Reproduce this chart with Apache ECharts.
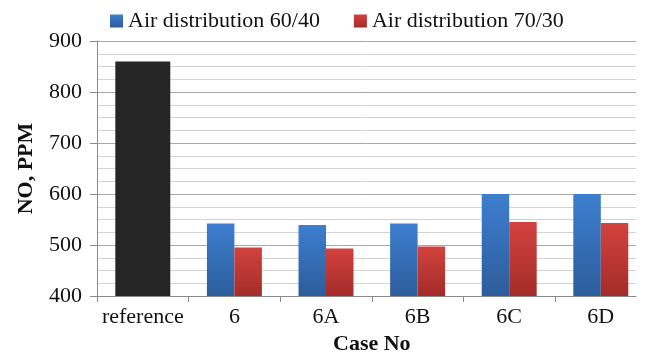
<!DOCTYPE html>
<html>
<head>
<meta charset="utf-8">
<style>
  html, body { margin: 0; padding: 0; background: #fff; }
  #chart { width: 645px; height: 354px; }
</style>
<script src="https://cdn.jsdelivr.net/npm/echarts@6/dist/echarts.min.js"></script>
</head>
<body>
<div id="chart"></div>
<script>
// NO emissions per case
const categories = ['reference', '6', '6A', '6B', '6C', '6D'];
const referenceValues = [860, null, null, null, null, null];
const air6040 = [null, 542, 539, 542, 600, 600];
const air7030 = [null, 495, 493, 497, 545, 543];
const seriesNames = ['Air distribution 60/40', 'Air distribution 70/30'];

const serif = '"Liberation Serif", "Times New Roman", serif';
const grad = (top, bottom) => new echarts.graphic.LinearGradient(0, 0, 0, 1, [
  { offset: 0, color: top }, { offset: 1, color: bottom }
]);
const blue = grad('#3d7ece', '#2c5d9c');
const red = grad('#d2423e', '#a32c29');

const chart = echarts.init(document.getElementById('chart'));
chart.setOption({
  animation: false,
  backgroundColor: '#ffffff',
  legend: {
    data: seriesNames,
    top: 5,
    left: 105,
    itemWidth: 13,
    itemHeight: 13,
    itemGap: 34,
    icon: 'rect',
    textStyle: { fontFamily: serif, fontSize: 22, color: '#111' }
  },
  grid: [
    // frame: value-axis gridlines and the baseline
    { left: 97, right: 9, top: 41, bottom: 58, outerBoundsMode: 'none' },
    // bars and category labels
    { left: 97, right: -1.6, top: 41, bottom: 58, outerBoundsMode: 'none' }
  ],
  xAxis: [
    {
      gridIndex: 0, type: 'value', min: 0, max: 1,
      axisLine: { show: true, lineStyle: { color: '#8a8a8a', width: 1 } },
      axisTick: { show: false }, axisLabel: { show: false }, splitLine: { show: false }
    },
    {
      gridIndex: 1, type: 'category', data: categories,
      axisLine: { show: false },
      axisTick: { show: true, interval: 0, length: 6, lineStyle: { color: '#8a8a8a' } },
      axisLabel: { interval: 0, fontFamily: serif, fontSize: 22, color: '#111', margin: 10 },
      name: 'Case No', nameLocation: 'middle', nameGap: 35,
      nameTextStyle: { fontFamily: serif, fontSize: 22, fontWeight: 'bold', color: '#111' }
    },
    {
      gridIndex: 1, type: 'category', data: categories, show: false
    }
  ],
  yAxis: [
    {
      gridIndex: 0, type: 'value', min: 400, max: 900, interval: 100,
      axisLine: { show: true, lineStyle: { color: '#8a8a8a' } },
      axisTick: { show: true, length: 7, lineStyle: { color: '#8a8a8a' } },
      axisLabel: { fontFamily: serif, fontSize: 22, color: '#111', margin: 15 },
      splitLine: { show: true, lineStyle: { color: '#a8a8a8', width: 1 } },
      minorTick: { show: false, splitNumber: 4 },
      minorSplitLine: { show: true, lineStyle: { color: '#d2d2d2', width: 1 } },
      name: 'NO, PPM', nameLocation: 'middle', nameGap: 60, nameRotate: 90,
      nameTextStyle: { fontFamily: serif, fontSize: 22, fontWeight: 'bold', color: '#111' }
    },
    {
      gridIndex: 1, type: 'value', min: 400, max: 900, interval: 100, show: false,
      splitLine: { show: false }
    }
  ],
  series: [
    {
      name: 'reference', type: 'bar', xAxisIndex: 2, yAxisIndex: 1,
      data: referenceValues, barWidth: '60%',
      itemStyle: { color: '#262626' }
    },
    {
      name: seriesNames[0], type: 'bar', xAxisIndex: 1, yAxisIndex: 1,
      data: air6040, barGap: '0%', barCategoryGap: '40%',
      itemStyle: { color: blue }
    },
    {
      name: seriesNames[1], type: 'bar', xAxisIndex: 1, yAxisIndex: 1,
      data: air7030, barGap: '0%', barCategoryGap: '40%',
      itemStyle: { color: red }
    }
  ]
});
</script>
</body>
</html>
